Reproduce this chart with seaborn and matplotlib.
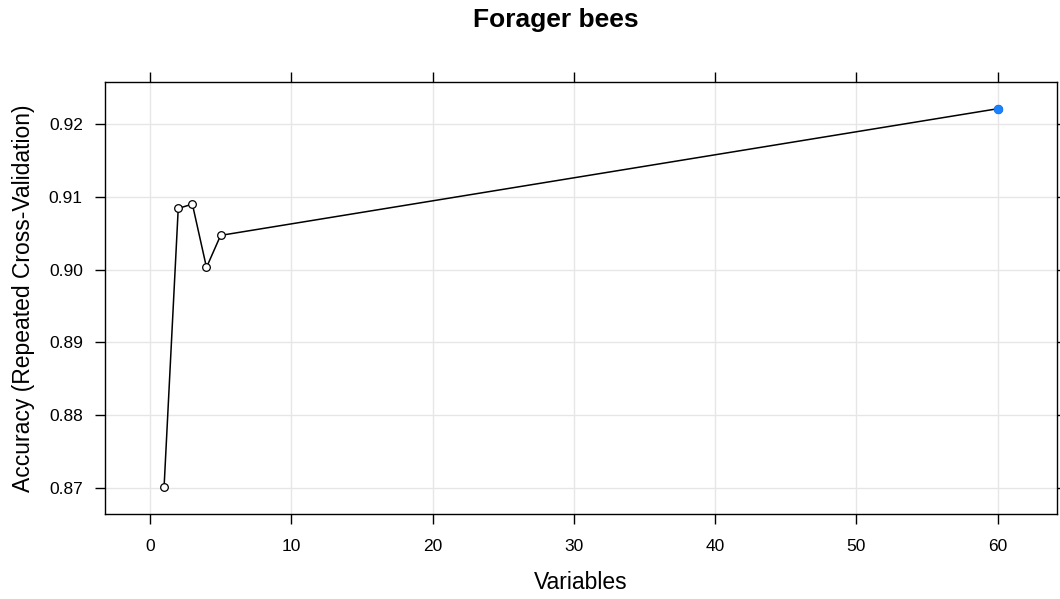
import matplotlib
matplotlib.use("Agg")
import matplotlib.pyplot as plt
import seaborn as sns
import pandas as pd

# Recursive feature elimination results: subset size vs. resampled accuracy
variables = [1, 2, 3, 4, 5, 60]
accuracy = [0.8702, 0.9084, 0.9090, 0.9003, 0.9047, 0.9221]
best_index = 5

x_ticks = [0, 10, 20, 30, 40, 50, 60]
y_ticks = [0.87, 0.88, 0.89, 0.90, 0.91, 0.92]
y_tick_labels = ["0.87", "0.88", "0.89", "0.90", "0.91", "0.92"]

sns.set_theme(style="white")
plt.rcParams["font.family"] = ["Liberation Sans", "DejaVu Sans"]

df = pd.DataFrame({"Variables": variables, "Accuracy": accuracy})

fig = plt.figure(figsize=(10.6, 5.99), dpi=100)
ax = fig.add_axes([0.0991, 0.1419, 0.8981, 0.7212])

sns.lineplot(data=df, x="Variables", y="Accuracy", ax=ax, color="black",
             linewidth=1.1, marker="o", markersize=5.5,
             markerfacecolor="white", markeredgecolor="black",
             markeredgewidth=0.9, zorder=3)
best = df.iloc[[best_index]]
sns.scatterplot(data=best, x="Variables", y="Accuracy", ax=ax,
                color="#1a82ff", s=40, edgecolor="#1a82ff", zorder=4)

ax.set_xlim(-3.18, 64.2)
ax.set_ylim(0.86643, 0.92577)
ax.set_xticks(x_ticks)
ax.set_yticks(y_ticks)
ax.set_yticklabels(y_tick_labels)
ax.grid(True, color="#e6e6e6", linewidth=1.0)
ax.set_axisbelow(True)

for side in ax.spines.values():
    side.set_color("black")
    side.set_linewidth(1.0)

ax.tick_params(axis="both", which="both", direction="out", length=7,
               width=1.0, color="black", labelsize=12.5, labelcolor="black",
               top=True, right=True, bottom=True, left=True,
               labeltop=False, labelright=False)
ax.tick_params(axis="y", pad=9)
ax.tick_params(axis="x", pad=11)

ax.set_xlabel("Variables", fontsize=16.5, labelpad=12, color="black")
ax.set_ylabel("Accuracy (Repeated Cross-Validation)", fontsize=16.5,
              labelpad=10, color="black")
fig.text(0.524, 0.966, "Forager bees", fontsize=19, fontweight="bold",
         ha="center", va="center", color="black")

fig.savefig("out.png", dpi=100)
